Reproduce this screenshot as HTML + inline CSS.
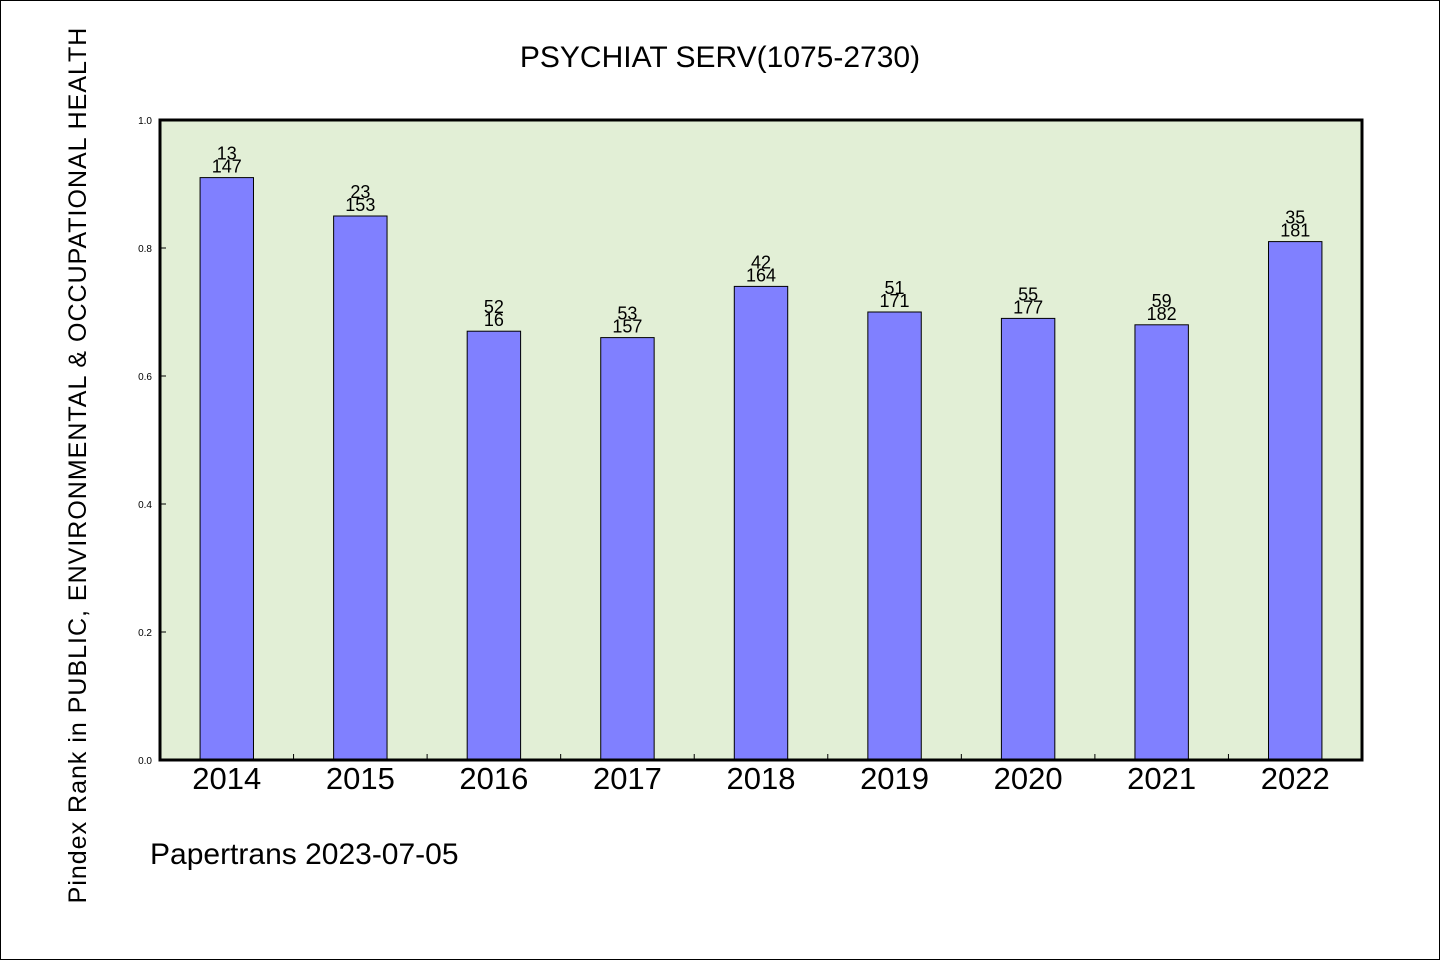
<!DOCTYPE html>
<html><head><meta charset="utf-8"><style>
html,body{margin:0;padding:0;background:#fff}
svg text{font-family:"Liberation Sans","WenQuanYi Zen Hei",sans-serif}
</style></head><body>
<svg width="1440" height="960" xmlns="http://www.w3.org/2000/svg" id="chart">
<rect x="0.5" y="0.5" width="1439" height="959" fill="#fff" stroke="#000"/>
<text x="720" y="67" text-anchor="middle" font-size="30" font-family="WenQuanYi Zen Hei, sans-serif">PSYCHIAT SERV(1075-2730)</text>
<text transform="translate(86,465) rotate(-90)" text-anchor="middle" font-size="25" font-family="WenQuanYi Zen Hei, sans-serif" letter-spacing="1">Pindex Rank in PUBLIC, ENVIRONMENTAL &amp; OCCUPATIONAL HEALTH</text>
<text x="150" y="864" font-size="30" font-family="WenQuanYi Zen Hei, sans-serif">Papertrans 2023-07-05</text>
<rect x="160" y="120" width="1202" height="640" fill="#e2efd6"/>
<g id="bars"></g>
<g id="axes"></g>
<rect x="160" y="120" width="1202" height="640" fill="none" stroke="#000" stroke-width="3"/>
</svg>
<script>
const categories=["2014","2015","2016","2017","2018","2019","2020","2021","2022"];
const values=[0.91,0.85,0.67,0.66,0.74,0.70,0.69,0.68,0.81];
const topLabels=["13","23","52","53","42","51","55","59","35"];
const bottomLabels=["147","153","16","157","164","171","177","182","181"];
const yTicks=[0,0.2,0.4,0.6,0.8,1.0];
const yTickLabels=["0.0","0.2","0.4","0.6","0.8","1.0"];
const NS="http://www.w3.org/2000/svg";
const X0=160,W=1202,Y0=760,H=640;
const band=W/categories.length;
const xC=i=>X0+band*(i+0.5);
const yS=v=>Y0-v*H;
function mk(t,a,p){const e=document.createElementNS(NS,t);for(const k in a)e.setAttribute(k,a[k]);p.appendChild(e);return e;}
const bars=document.getElementById('bars'),axes=document.getElementById('axes');
const bw=band*0.4;
categories.forEach((c,i)=>{
 const r=mk('rect',{x:xC(i)-bw/2,y:yS(values[i]),width:bw,height:Y0-yS(values[i]),fill:'#8080ff',stroke:'#000','stroke-width':1},bars);
 
 
 const t1=mk('text',{x:xC(i),y:yS(values[i])-18,'text-anchor':'middle','font-size':18},bars);t1.textContent=topLabels[i];
 
 
 const t2=mk('text',{x:xC(i),y:yS(values[i])-5,'text-anchor':'middle','font-size':18},bars);t2.textContent=bottomLabels[i];
 
 
 const xl=mk('text',{x:xC(i),y:789,'text-anchor':'middle','font-size':31},axes);xl.textContent=c;
 
 
 if(i>0){const tk=mk('line',{x1:X0+band*i,x2:X0+band*i,y1:Y0,y2:Y0-6,stroke:'#000'},axes);
 
 }
});
yTicks.forEach((v,i)=>{
 const t=mk('text',{x:152,y:yS(v)+4,'text-anchor':'end','font-size':10},axes);t.textContent=yTickLabels[i];
 
 
 if(i>0&&i<yTicks.length-1){const tk=mk('line',{x1:X0,x2:X0+6,y1:yS(v),y2:yS(v),stroke:'#000'},axes);
 
 }
});
</script>
</body></html>
